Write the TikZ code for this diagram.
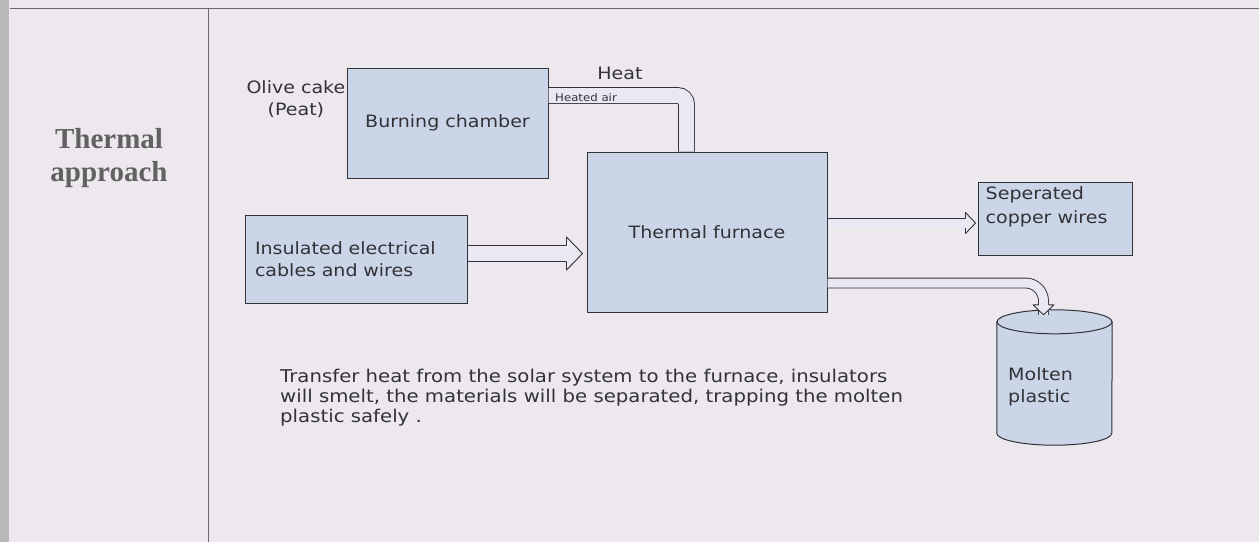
\documentclass[tikz,border=0pt]{standalone}
\usepackage{fontspec}
\setmainfont{Liberation Serif}
\newfontfamily\diagfont[FakeStretch=1.12]{DejaVu Sans}
\usetikzlibrary{arrows.meta,positioning}
\definecolor{paper}{RGB}{236,232,237}
\definecolor{boxblue}{RGB}{203,213,232}
\definecolor{pipefill}{RGB}{234,232,242}
\definecolor{inkgray}{RGB}{50,50,55}
\definecolor{rulegray}{RGB}{105,105,110}

\begin{document}
\begin{tikzpicture}[
    x=1pt, y=-1pt,
    font=\diagfont\fontsize{17}{22}\selectfont,
    text=inkgray,
    box/.style={draw=inkgray, fill=boxblue, line width=1pt, inner sep=0pt},
    pipe/.style={draw=inkgray, double=pipefill, line width=0.9pt, double distance=#1},
    pipe/.default=15pt,
    % hollow arrow head: shaft half width / head half width / head length
    pics/pipehead/.style args={#1/#2/#3}{code={
        \fill[pipefill] (-#3,-#1) -- (-#3,-#2) -- (0,0) -- (-#3,#2) -- (-#3,#1) -- cycle;
        \draw[inkgray, line width=0.9pt, line join=round] (-#3,-#1) -- (-#3,-#2) -- (0,0) -- (-#3,#2) -- (-#3,#1);
    }}
]

    % ==========================================
    % PAGE (scan background, table rules)
    % ==========================================
    \fill[paper] (0,0) rectangle (1259,542);
    \fill[gray!55] (0,0) rectangle (9,542);
    \useasboundingbox (0,0) rectangle (1259,542);
    \draw[rulegray, line width=1pt] (10,8) -- (1259,8);
    \draw[rulegray, line width=1pt] (208,8) -- (208,542);

    \node[font=\rmfamily\bfseries\fontsize{29}{33}\selectfont, text=black!62, align=center] (title) at (109,158) {Thermal\\approach};

    % ==========================================
    % BOXES
    % ==========================================
    \node[box, minimum width=201, minimum height=110] (burn)   at (447.5,123) {Burning chamber};
    \node[box, minimum width=240, minimum height=160] (furn)   at (707,232)   {Thermal furnace};
    \node[box, minimum width=222, minimum height=88, text width=202, align=left] (cable) at (356,259)
        {Insulated electrical\\cables and wires};
    \node[box, minimum width=154, minimum height=73,
          label={[anchor=north west, align=left, inner sep=0pt, yshift=-5pt, xshift=8pt,
                  font=\diagfont\fontsize{17}{24}\selectfont]north west:Seperated\\copper wires}] (copper) at (1055,218.5) {};

    % Tank (cylinder)
    \node[minimum width=115, minimum height=135, inner sep=0pt] (tank) at (1054.5,377.5) {};
    \filldraw[box] ([yshift=-12pt]tank.north west) -- ([yshift=12pt]tank.south west)
        arc[start angle=180, end angle=360, x radius=57.5pt, y radius=12pt]
        -- ([yshift=-12pt]tank.north east) -- cycle;
    \filldraw[box] ([yshift=-12pt]tank.north) ellipse[x radius=57.5pt, y radius=12pt];
    \node[align=left, anchor=west, inner sep=0pt] (tanktxt) at (1008,387) {Molten\\plastic};

    % Labels (fuel, heat)
    \node[align=center, anchor=east, inner sep=1pt] (fuel) at (burn.north west |- 0,99) {Olive cake\\(Peat)};
    \node[inner sep=1pt] (heat) at (620,73) {Heat};

    % ==========================================
    % PIPES (hollow arrows)
    % ==========================================
    \draw[pipe=15pt, rounded corners=9pt] (burn.east |- 0,95.5) -| (furn.north -| 686.5,0);
    \node[font=\diagfont\fontsize{10.5}{12}\selectfont, anchor=west, inner sep=1pt] (air) at (554,98) {Heated air};

    % cables -> furnace
    \draw[pipe=15.5pt] (cable.east |- 0,253.5) -- ([xshift=-16pt]furn.west |- 0,253.5);
    \pic at ([xshift=-4pt]furn.west |- 0,253.5) {pipehead=8.2/16.5/16};

    % furnace -> copper wires
    \draw[pipe=9pt] (furn.east |- 0,223) -- ([xshift=-12pt]copper.west |- 0,223);
    \pic at ([xshift=-2pt]copper.west |- 0,223) {pipehead=5/10.5/10};

    % furnace -> molten plastic
    \draw[pipe=9pt, rounded corners=18pt] (furn.east |- 0,283) -| ([xshift=-11pt, yshift=-5pt]tank.north);
    \pic[rotate=-90] at ([xshift=-11pt, yshift=-5pt]tank.north) {pipehead=5/10.5/10};

    % Caption
    \node[anchor=north west, align=left, inner sep=0pt, font=\diagfont\fontsize{17.6}{20}\selectfont] (note) at (280,369)
        {Transfer heat from the solar system to the furnace, insulators\\
         will smelt, the materials will be separated, trapping the molten\\
         plastic safely .};

\end{tikzpicture}
\end{document}
